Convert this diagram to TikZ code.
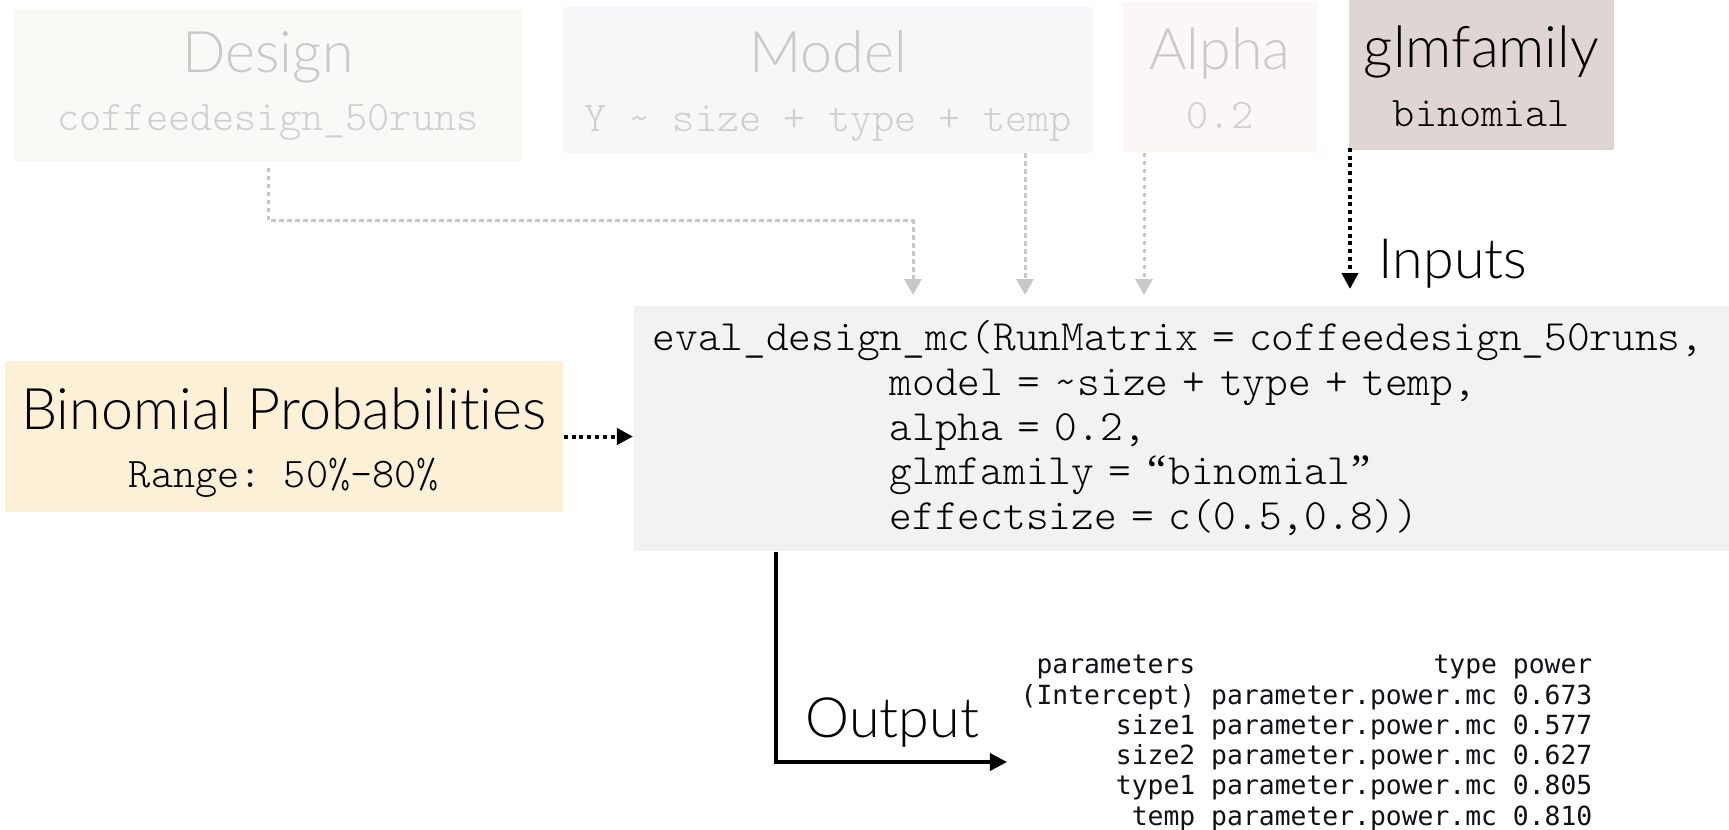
\documentclass[tikz,border=0pt]{standalone}
\usepackage{fontspec}
\setmainfont{Lato}[UprightFont=* Light, Ligatures=NoCommon]
\setmonofont{lmmonolt10-regular}[Extension=.otf]
\newfontfamily\tablefont{DejaVu Sans Mono}
\newfontfamily\quotefont{Liberation Serif}
\usepackage{tikz}
\usetikzlibrary{arrows.meta, positioning, calc}

\definecolor{designfill}{HTML}{F9FAF6}
\definecolor{modelfill}{HTML}{F7F7F9}
\definecolor{alphafill}{HTML}{FAF7F6}
\definecolor{glmfill}{HTML}{DFD6D4}
\definecolor{binomfill}{HTML}{FCF0D7}
\definecolor{codefill}{HTML}{F2F2F2}
\definecolor{fadetitle}{HTML}{C9C9C9}
\definecolor{fadesub}{HTML}{CFCFCF}
\definecolor{fadearrow}{HTML}{C8C8C8}
\definecolor{tabletext}{HTML}{101018}

\newcommand\subtt{\fontsize{12}{12}\selectfont\ttfamily}
% curly quotes kept in a monospace cell
\newcommand\openq{\makebox[\fontcharwd\font`a]{\quotefont “}}
\newcommand\closeq{\makebox[\fontcharwd\font`a]{\quotefont ”}}
\frenchspacing

\begin{document}
\begin{tikzpicture}[
    x=0.01cm, y=-0.01cm,
    inbox/.style={inner sep=0pt, align=center, text height=29pt, text depth=0pt,
        font=\fontsize{16.3}{16.5}\selectfont},
    labeltxt/.style={inner sep=0pt, font=\fontsize{15.8}{18}\selectfont},
    inarrow/.style={draw=fadearrow, line width=0.03cm, dash pattern=on 0.045cm off 0.035cm, -{Triangle[length=0.16cm, width=0.17cm]}},
    keyarrow/.style={draw=black, line width=0.04cm, dash pattern=on 0.04cm off 0.038cm, -{Triangle[length=0.16cm, width=0.16cm]}},
    outarrow/.style={draw=black, line width=0.033cm, -{Triangle[length=0.17cm, width=0.17cm]}},
]
\useasboundingbox (0,0) rectangle (1729,829);

% Inputs along the top
\node[inbox, fill=designfill, text=fadetitle, minimum width=5.10cm, minimum height=1.52cm, text height=25.6pt] (design) at (268,85) {Design\\{\subtt\color{fadesub}coffeedesign\_50runs}};
\node[inbox, fill=modelfill, text=fadetitle, minimum width=5.30cm, minimum height=1.45cm] (model) at (828,80) {Model\\{\subtt\color{fadesub}Y \textasciitilde{} size + type + temp}};
\node[inbox, fill=alphafill, text=fadetitle, minimum width=1.94cm, minimum height=1.50cm] (alpha) at (1220,77) {Alpha\\{\subtt\color{fadesub}0.2}};
\node[inbox, fill=glmfill, text=black, minimum width=2.65cm, minimum height=1.50cm] (glm) at (1481.5,75) {glmfamily\\{\subtt binomial}};

% Effect size
\node[inbox, fill=binomfill, text=black, minimum width=5.58cm, minimum height=1.51cm] (binom) at (284,436.5) {Binomial Probabilities\\{\subtt Range: 50\%-80\%}};

% Function call
\node[fill=codefill, anchor=north west, inner sep=0pt, minimum width=11cm, minimum height=2.45cm,
      text width=10.62cm, align=left, font=\fontsize{12.3}{12.7}\selectfont\ttfamily] (code) at (633,305)
  {eval\_design\_mc(RunMatrix = coffeedesign\_50runs,\\
   \hspace*{2.37cm}model = \textasciitilde size + type + temp,\\
   \hspace*{2.37cm}alpha = 0.2,\\
   \hspace*{2.37cm}glmfamily = \openq binomial\closeq\\
   \hspace*{2.37cm}effectsize = c(0.5,0.8))};

% Arrow ends above the call
\coordinate (designin) at (913,295);
\coordinate (modelin) at (1025,295);
\coordinate (alphain) at (1144,295);
\coordinate (glmin) at (1350,289);

\draw[inarrow] ([yshift=-0.06cm]design.south) -- ++(0,53) -| (designin);
\draw[inarrow] (model.south -| modelin) -- (modelin);
\draw[inarrow] (alpha.south -| alphain) -- (alphain);
\draw[keyarrow] ([yshift=0.03cm]glm.south -| glmin) -- (glmin);
\node[labeltxt, above right=0cm and 0.28cm of glmin] (inputs) {Inputs};

\draw[keyarrow] (binom.east) -- (binom.east -| code.west);

% Output
\coordinate (outtop) at ([xshift=1.43cm]code.south west);
\coordinate (outtip) at (1007,762);
\coordinate (outcorner) at (outtop |- outtip);
\draw[outarrow] (outtop) -- (outcorner) -- (outtip);
\node[labeltxt, above right=0.14cm and 0.29cm of outcorner] (output) {Output};

\node[anchor=north west, inner sep=0pt, text=tabletext, font=\tablefont\fontsize{7.5}{8.6}\selectfont] (powertab) at (1020,652)
  {\begin{tabular}{@{}r@{\ }r@{\ }r@{}}
   parameters & type & power\\
   (Intercept) & parameter.power.mc & 0.673\\
   size1 & parameter.power.mc & 0.577\\
   size2 & parameter.power.mc & 0.627\\
   type1 & parameter.power.mc & 0.805\\
   temp & parameter.power.mc & 0.810
   \end{tabular}};

\end{tikzpicture}
\end{document}
